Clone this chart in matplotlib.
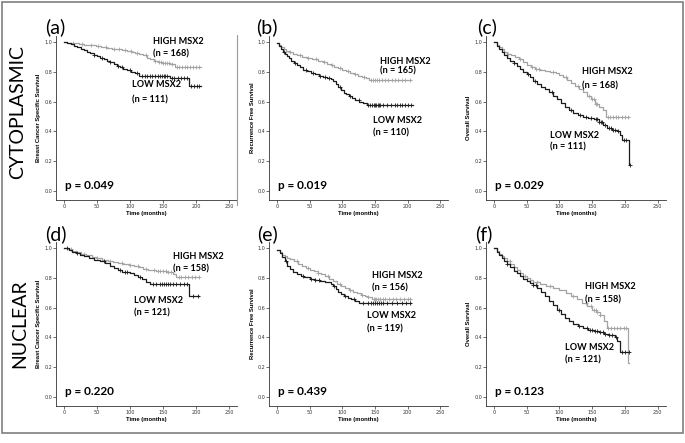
import numpy as np
import matplotlib
matplotlib.use('Agg')
import matplotlib.pyplot as plt
from matplotlib.patches import Rectangle

# 面板 (a)-(f) 的生存曲线数据: 时间(月) / 生存率 (阶梯), 删失时间点
a_high_t = [0, 5, 12, 22, 30, 40, 48, 56, 64, 72, 80, 88, 95, 102, 108, 114, 120, 126, 131, 136, 142, 148, 160, 168, 208]
a_high_s = [1.0, 0.995, 0.99, 0.986, 0.982, 0.978, 0.972, 0.966, 0.96, 0.955, 0.95, 0.945, 0.938, 0.932, 0.925, 0.918, 0.91, 0.895, 0.885, 0.875, 0.865, 0.858, 0.852, 0.83, 0.83]
a_low_t = [0, 5, 10, 15, 20, 25, 30, 35, 40, 45, 50, 55, 60, 65, 70, 75, 80, 85, 90, 96, 102, 108, 114, 152, 160, 190, 208]
a_low_s = [1.0, 0.99, 0.985, 0.975, 0.965, 0.955, 0.945, 0.935, 0.925, 0.915, 0.905, 0.895, 0.885, 0.875, 0.865, 0.855, 0.84, 0.83, 0.82, 0.81, 0.80, 0.79, 0.775, 0.77, 0.76, 0.705, 0.705]
a_high_c = [14, 28, 41, 52, 63, 75, 84, 92, 101, 111, 124, 138, 144, 147, 150, 153, 156, 159, 163, 171, 175, 179, 183, 187, 191, 196, 200, 204]
a_low_c = [45, 58, 70, 82, 88, 100, 110, 118, 122, 126, 130, 134, 138, 142, 146, 149, 151, 153, 156, 163, 167, 172, 177, 182, 186, 193, 197, 201, 205]

b_high_t = [0, 3, 6, 10, 14, 18, 24, 30, 38, 46, 54, 62, 70, 76, 82, 88, 94, 100, 106, 112, 118, 124, 130, 136, 141, 205]
b_high_s = [0.99, 0.98, 0.965, 0.95, 0.94, 0.93, 0.92, 0.91, 0.9, 0.89, 0.885, 0.875, 0.865, 0.855, 0.845, 0.835, 0.825, 0.815, 0.805, 0.795, 0.785, 0.775, 0.765, 0.755, 0.745, 0.745]
b_low_t = [0, 3, 6, 9, 12, 15, 18, 22, 26, 30, 35, 40, 46, 52, 58, 64, 70, 76, 82, 86, 90, 94, 98, 102, 106, 110, 115, 120, 126, 132, 138, 208]
b_low_s = [0.99, 0.975, 0.955, 0.935, 0.92, 0.905, 0.89, 0.875, 0.86, 0.845, 0.83, 0.815, 0.805, 0.795, 0.785, 0.775, 0.765, 0.76, 0.752, 0.74, 0.72, 0.70, 0.68, 0.66, 0.648, 0.635, 0.625, 0.61, 0.6, 0.59, 0.575, 0.575]
b_high_c = [20, 35, 48, 60, 72, 84, 96, 108, 120, 133, 144, 147, 150, 153, 156, 160, 165, 170, 176, 181, 186, 191, 196, 204]
b_low_c = [10, 28, 44, 55, 66, 74, 80, 96, 112, 125, 140, 143, 146, 148, 150, 152, 154, 156, 158, 162, 168, 174, 180, 184, 188, 192, 196, 200, 205]

c_high_t = [0, 4, 8, 12, 16, 20, 26, 32, 38, 44, 50, 56, 62, 70, 78, 86, 94, 100, 106, 112, 118, 124, 130, 136, 142, 148, 154, 160, 166, 171, 206]
c_high_s = [1.0, 0.98, 0.965, 0.95, 0.935, 0.92, 0.91, 0.9, 0.885, 0.865, 0.845, 0.83, 0.822, 0.815, 0.805, 0.8, 0.79, 0.78, 0.765, 0.745, 0.725, 0.705, 0.685, 0.665, 0.64, 0.615, 0.585, 0.565, 0.545, 0.495, 0.495]
c_low_t = [0, 4, 8, 12, 16, 20, 25, 30, 35, 40, 45, 50, 55, 60, 66, 72, 78, 84, 90, 96, 102, 108, 114, 120, 128, 136, 144, 152, 160, 166, 172, 180, 188, 192, 196, 206, 208]
c_low_s = [1.0, 0.975, 0.955, 0.935, 0.915, 0.895, 0.875, 0.86, 0.84, 0.82, 0.8, 0.785, 0.765, 0.735, 0.72, 0.7, 0.685, 0.665, 0.64, 0.615, 0.59, 0.565, 0.545, 0.525, 0.51, 0.5, 0.49, 0.48, 0.46, 0.445, 0.425, 0.41, 0.4, 0.375, 0.34, 0.175, 0.175]
c_high_c = [22, 40, 58, 64, 68, 90, 110, 128, 145, 149, 152, 155, 158, 174, 177, 181, 186, 190, 195, 200, 205]
c_low_c = [30, 52, 62, 88, 118, 132, 140, 148, 155, 158, 160, 163, 165, 170, 175, 178, 182, 185, 190, 198, 202, 207]

d_high_t = [0, 6, 12, 18, 26, 34, 42, 50, 58, 66, 74, 82, 90, 98, 106, 114, 120, 128, 140, 155, 165, 170, 205]
d_high_s = [1.0, 0.99, 0.98, 0.97, 0.96, 0.95, 0.94, 0.93, 0.92, 0.912, 0.906, 0.9, 0.892, 0.885, 0.878, 0.87, 0.862, 0.855, 0.845, 0.838, 0.825, 0.805, 0.805]
d_low_t = [0, 8, 12, 18, 24, 30, 38, 46, 54, 62, 70, 76, 82, 88, 100, 106, 112, 118, 124, 130, 190, 205]
d_low_s = [1.0, 0.985, 0.975, 0.965, 0.955, 0.945, 0.935, 0.922, 0.91, 0.898, 0.882, 0.865, 0.85, 0.842, 0.835, 0.82, 0.805, 0.79, 0.775, 0.76, 0.675, 0.675]
d_high_c = [10, 30, 50, 70, 88, 100, 112, 124, 136, 142, 146, 150, 154, 158, 162, 174, 178, 183, 188, 194, 199, 204]
d_low_c = [4, 20, 60, 85, 92, 96, 115, 135, 140, 145, 148, 151, 154, 157, 160, 165, 170, 176, 182, 186, 196, 203]

e_high_t = [0, 4, 8, 12, 16, 20, 26, 32, 38, 44, 50, 56, 62, 68, 74, 80, 86, 92, 98, 104, 110, 116, 122, 128, 134, 140, 146, 205]
e_high_s = [0.985, 0.97, 0.955, 0.945, 0.935, 0.925, 0.91, 0.895, 0.88, 0.866, 0.855, 0.845, 0.835, 0.825, 0.81, 0.795, 0.778, 0.76, 0.745, 0.73, 0.715, 0.705, 0.695, 0.685, 0.675, 0.668, 0.66, 0.66]
e_low_t = [0, 4, 8, 12, 16, 20, 24, 30, 36, 42, 50, 58, 66, 74, 82, 86, 90, 94, 98, 102, 108, 114, 120, 126, 205]
e_low_s = [0.985, 0.965, 0.94, 0.91, 0.88, 0.86, 0.84, 0.825, 0.815, 0.805, 0.795, 0.785, 0.778, 0.77, 0.76, 0.745, 0.725, 0.705, 0.69, 0.675, 0.665, 0.655, 0.645, 0.63, 0.63]
e_high_c = [30, 48, 62, 78, 96, 112, 130, 140, 148, 150, 152, 155, 158, 162, 166, 172, 178, 182, 188, 194, 200, 204]
e_low_c = [14, 40, 52, 58, 64, 88, 104, 118, 132, 140, 144, 147, 150, 153, 156, 159, 162, 168, 176, 184, 192, 198, 203]

f_high_t = [0, 4, 8, 12, 16, 20, 25, 30, 35, 40, 45, 50, 55, 60, 70, 80, 90, 100, 110, 118, 126, 134, 142, 150, 156, 162, 168, 172, 204, 206]
f_high_s = [1.0, 0.98, 0.96, 0.945, 0.93, 0.915, 0.895, 0.875, 0.855, 0.835, 0.815, 0.8, 0.785, 0.77, 0.76, 0.745, 0.73, 0.715, 0.695, 0.675, 0.655, 0.63, 0.61, 0.585, 0.57, 0.55, 0.51, 0.46, 0.23, 0.23]
f_low_t = [0, 4, 8, 12, 16, 20, 25, 30, 35, 40, 45, 50, 55, 60, 66, 72, 78, 84, 90, 96, 102, 108, 114, 120, 128, 136, 144, 152, 160, 168, 176, 184, 188, 193, 206]
f_low_s = [1.0, 0.975, 0.955, 0.935, 0.915, 0.895, 0.87, 0.845, 0.83, 0.81, 0.795, 0.78, 0.765, 0.75, 0.73, 0.705, 0.675, 0.645, 0.615, 0.585, 0.555, 0.53, 0.51, 0.49, 0.475, 0.465, 0.45, 0.44, 0.435, 0.425, 0.415, 0.405, 0.375, 0.30, 0.30]
f_high_c = [24, 48, 66, 86, 120, 140, 148, 152, 155, 158, 162, 174, 178, 183, 188, 193, 198, 202]
f_low_c = [20, 60, 64, 100, 130, 142, 146, 150, 154, 158, 162, 166, 170, 176, 180, 186, 196, 200, 206]

letters = ['(a)', '(b)', '(c)', '(d)', '(e)', '(f)']
ylabels = ['Breast Cancer Specific Survival', 'Recurrence Free Survival', 'Overall Survival'] * 2
p_values = ['p = 0.049', 'p = 0.019', 'p = 0.029', 'p = 0.220', 'p = 0.439', 'p = 0.123']
n_high = [168, 165, 168, 158, 156, 158]
n_low = [111, 110, 111, 121, 119, 121]
row_labels = ['CYTOPLASMIC', 'NUCLEAR']
x_ticks = [0, 50, 100, 150, 200, 250]
y_ticks = [0.0, 0.2, 0.4, 0.6, 0.8, 1.0]

# 标注位置 (数据坐标: 月, 标签行 y, n 行 y)
high_pos = [(135, 1.0, 0.922), (158, 0.867, 0.807), (134, 0.80, 0.706),
            (165, 0.94, 0.862), (146, 0.813, 0.73), (139, 0.743, 0.654)]
low_pos = [(103, 0.718, 0.61), (147, 0.473, 0.393), (85, 0.374, 0.296),
           (106, 0.647, 0.565), (138, 0.546, 0.46), (109, 0.33, 0.248)]

HIGH_COLOR = '#a3a3a3'
LOW_COLOR = '#1c1c1c'
W, H = 685, 443


def step_value(t, s, x):
    idx = np.searchsorted(np.array(t), np.array(x), side='right') - 1
    return np.array(s)[np.clip(idx, 0, len(s) - 1)]


def draw_curve(ax, t, s, cens, color):
    ax.step(t, s, where='post', color=color, lw=0.9)
    ax.plot(cens, step_value(t, s, cens), '+', color=color, ms=3.2, mew=0.6, ls='none')


def panel_axes(fig, row, col):
    lefts = [56.1, 269.2, 486.1]
    widths = [180.8, 178.9, 179.5]
    bottoms = [200, 406]
    return fig.add_axes([lefts[col] / W, 1 - bottoms[row] / H, widths[col] / W, 164 / H])


def style_axes(ax, ylabel):
    ax.set_xlim(-12, 262)
    ax.set_ylim(-0.06, 1.04)
    ax.set_xticks(x_ticks)
    ax.set_yticks(y_ticks)
    ax.set_xticklabels([str(v) for v in x_ticks])
    ax.set_yticklabels(['%.1f' % v for v in y_ticks])
    for side in ['top', 'right']:
        ax.spines[side].set_visible(False)
    for side in ['left', 'bottom']:
        ax.spines[side].set_linewidth(0.6)
        ax.spines[side].set_color('#333333')
    ax.tick_params(length=2, width=0.5, pad=1, labelsize=3.5, colors='#333333')
    ax.set_xlabel('Time (months)', fontsize=4.2, fontweight='bold', family='Liberation Sans', labelpad=1.5)
    ax.set_ylabel(ylabel, fontsize=4.2, fontweight='bold', family='Liberation Sans', labelpad=2)


def label(ax, x, y, s, size=6.6):
    ax.text(x, y, s, fontsize=size, fontweight='bold', family='Lato', va='center', ha='left')


def main():
    fig = plt.figure(figsize=(W / 100, H / 100), dpi=100)
    panels = [
        (a_high_t, a_high_s, a_high_c, a_low_t, a_low_s, a_low_c),
        (b_high_t, b_high_s, b_high_c, b_low_t, b_low_s, b_low_c),
        (c_high_t, c_high_s, c_high_c, c_low_t, c_low_s, c_low_c),
        (d_high_t, d_high_s, d_high_c, d_low_t, d_low_s, d_low_c),
        (e_high_t, e_high_s, e_high_c, e_low_t, e_low_s, e_low_c),
        (f_high_t, f_high_s, f_high_c, f_low_t, f_low_s, f_low_c),
    ]
    letter_xy = [(45, 27), (256, 27), (477, 27), (45, 234), (257, 234), (475, 234)]

    for i, (ht, hs, hc, lt, ls, lc) in enumerate(panels):
        row, col = divmod(i, 3)
        ax = panel_axes(fig, row, col)
        draw_curve(ax, ht, hs, hc, HIGH_COLOR)
        draw_curve(ax, lt, ls, lc, LOW_COLOR)
        style_axes(ax, ylabels[i])

        hx, hy, hny = high_pos[i]
        label(ax, hx, hy, 'HIGH MSX2')
        label(ax, hx, hny, '(n = %d)' % n_high[i])
        lx, ly, lny = low_pos[i]
        label(ax, lx, ly, 'LOW MSX2')
        label(ax, lx, lny, '(n = %d)' % n_low[i])
        label(ax, 2, 0.04, p_values[i], size=8.5)

        lx_px, ly_px = letter_xy[i]
        fig.text(lx_px / W, 1 - ly_px / H, letters[i], fontsize=14, family='Lato', va='center', ha='left')

    fig.text(18 / W, 1 - 112 / H, row_labels[0], rotation=90, fontsize=14, family='Lato', va='center', ha='center')
    fig.text(20 / W, 1 - 324 / H, row_labels[1], rotation=90, fontsize=14, family='Lato', va='center', ha='center')

    # 外框和分隔线
    fig.patches.append(Rectangle((2 / W, 1 - 433 / H), 681 / W, 431 / H, transform=fig.transFigure,
                                 fill=False, edgecolor='#7f7f7f', lw=1.2))
    fig.lines.append(plt.Line2D([237 / W, 237 / W], [1 - 35 / H, 1 - 205 / H], transform=fig.transFigure,
                                color='#9a9a9a', lw=0.8))

    fig.savefig('out.png', dpi=100)


if __name__ == '__main__':
    main()
